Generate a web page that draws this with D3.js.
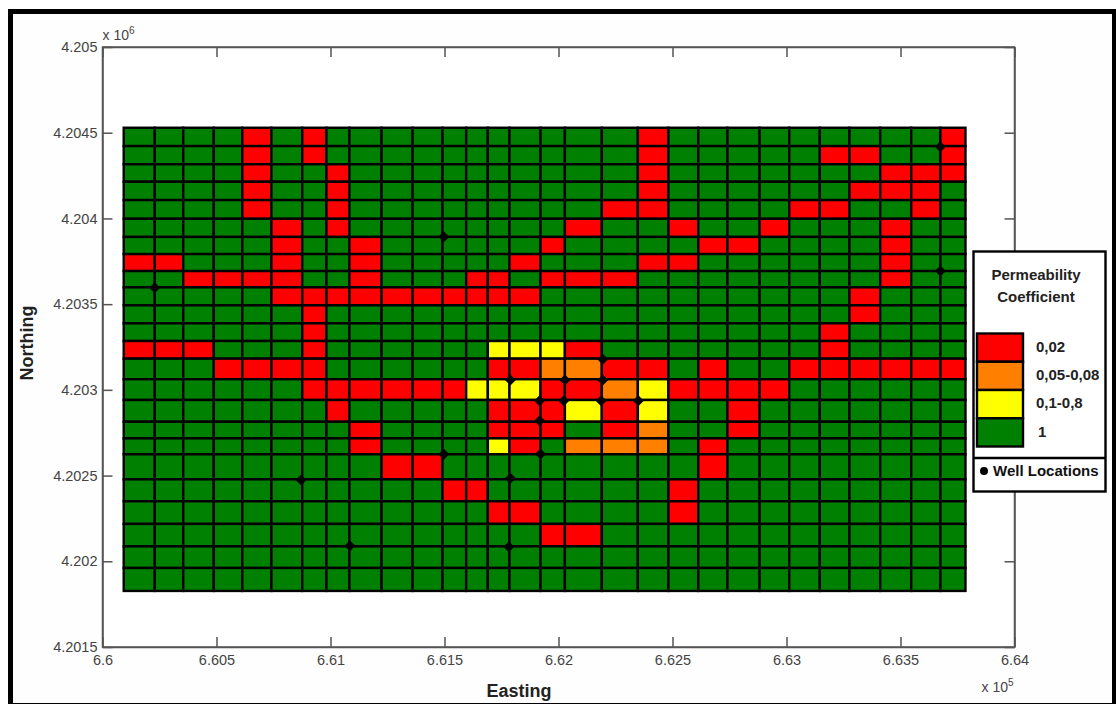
<!DOCTYPE html>
<html>
<head>
<meta charset="utf-8">
<script src="https://cdn.jsdelivr.net/npm/d3@7"></script>
<style>
html, body { margin: 0; background: #fff; }
svg { display: block; font-family: "Liberation Sans", Arial, sans-serif; }
.axis text { font-size: 14.5px; fill: #444; }
.axis path, .axis line { stroke: #555; stroke-width: 1.5; }
.title { font-weight: bold; fill: #222; }
</style>
</head>
<body>
<svg width="1116" height="704"></svg>
<script>
// cell edges, in metres
var eastEdges = [660093, 660229, 660354, 660488, 660613, 660741, 660876, 660982, 661083, 661224,
	661360, 661491, 661595, 661690, 661785, 661921, 662028, 662190, 662348, 662482,
	662613, 662741, 662882, 663012, 663146, 663276, 663411, 663547, 663675, 663785];
var northEdges = [4204529, 4204422, 4204316, 4204214, 4204107, 4203998, 4203892, 4203792, 4203693,
	4203598, 4203493, 4203388, 4203285, 4203182, 4203062, 4202941, 4202814, 4202717,
	4202624, 4202478, 4202350, 4202218, 4202087, 4201961, 4201827];

// columns with a low value, one list per row, top down. everything else is class "1"
var redCols = [
	[4, 6, 18, 28],
	[4, 6, 18, 24, 25, 28],
	[4, 7, 18, 26, 27, 28],
	[4, 7, 18, 25, 26, 27],
	[4, 7, 17, 18, 23, 24, 27],
	[5, 7, 16, 19, 22, 26],
	[5, 8, 15, 20, 21, 26],
	[0, 1, 5, 8, 14, 18, 19, 26],
	[2, 3, 4, 5, 8, 12, 13, 15, 16, 17, 26],
	[5, 6, 7, 8, 9, 10, 11, 12, 13, 14, 25],
	[6, 25],
	[6, 24],
	[0, 1, 2, 6, 16, 24],
	[3, 4, 5, 6, 13, 14, 17, 18, 20, 23, 24, 25, 26, 27, 28],
	[6, 7, 8, 9, 10, 11, 15, 16, 19, 20, 21, 22],
	[7, 13, 14, 15, 17, 21],
	[8, 13, 14, 15, 17, 21],
	[8, 14, 20],
	[9, 10, 20],
	[11, 12, 19],
	[13, 14, 19],
	[15, 16],
	[],
	[]
];
var orangeCols = {13: [15, 16], 14: [17], 16: [18], 17: [16, 17, 18]};
var yellowCols = {12: [13, 14, 15], 14: [12, 13, 14, 18], 15: [16, 18], 17: [13]};

var wellEast = [660229, 661497, 663675, 663675, 660871, 661085, 661497, 662194, 661789, 662028,
	662194, 661917, 662023, 662187, 662350, 661917, 661921, 661789, 661782];
var wellNorth = [4203596, 4203893, 4204418, 4203693, 4202474, 4202091, 4202624, 4203178, 4203058, 4203058,
	4203058, 4202937, 4202937, 4202937, 4202937, 4202820, 4202626, 4202484, 4202085];

var xTicks = [660000, 660500, 661000, 661500, 662000, 662500, 663000, 663500, 664000];
var xTickLabels = ["6.6", "6.605", "6.61", "6.615", "6.62", "6.625", "6.63", "6.635", "6.64"];
var yTicks = [4201500, 4202000, 4202500, 4203000, 4203500, 4204000, 4204500, 4205000];
var yTickLabels = ["4.2015", "4.202", "4.2025", "4.203", "4.2035", "4.204", "4.2045", "4.205"];

var legendLabels = ["0,02", "0,05-0,08", "0,1-0,8", "1"];
var legendColors = ["#ff0000", "#ff8000", "#ffff00", "#008000"];

var svg = d3.select("svg");

var x = d3.scaleLinear().domain([660000, 664000]).range([102.5, 1014.5]),
	y = d3.scaleLinear().domain([4201500, 4205000]).range([647, 47]);

// page frame
svg.append("rect")
	.attr("x", 8).attr("y", 9)
	.attr("width", 1108).attr("height", 695)
	.attr("fill", "#000");
svg.append("rect")
	.attr("x", 13).attr("y", 14)
	.attr("width", 1099).attr("height", 689)
	.attr("fill", "#fefefe");

// plot box
var box = {left: x.range()[0], right: x.range()[1], top: y.range()[1], bottom: y.range()[0]};
svg.append("rect")
	.attr("x", box.left).attr("y", box.top)
	.attr("width", box.right - box.left).attr("height", box.bottom - box.top)
	.attr("fill", "#fff").attr("stroke", "#555").attr("stroke-width", 1.5);

function fmt(list, labels) {
	return function(d) { return labels[list.indexOf(d)]; };
}

svg.append("g").attr("class", "axis")
	.attr("transform", "translate(0," + box.bottom + ")")
	.call(d3.axisBottom(x).tickValues(xTicks).tickFormat(fmt(xTicks, xTickLabels)).tickSizeInner(-10).tickSizeOuter(0))
	.call(function(g) { g.selectAll("text").attr("y", 8); });
svg.append("g").attr("class", "axis")
	.attr("transform", "translate(0," + box.top + ")")
	.call(d3.axisTop(x).tickValues(xTicks).tickFormat("").tickSizeInner(-10).tickSizeOuter(0));
svg.append("g").attr("class", "axis")
	.attr("transform", "translate(" + box.left + ",0)")
	.call(d3.axisLeft(y).tickValues(yTicks).tickFormat(fmt(yTicks, yTickLabels)).tickSizeInner(-10).tickSizeOuter(0))
	.call(function(g) { g.selectAll("text").attr("x", -5); });
svg.append("g").attr("class", "axis")
	.attr("transform", "translate(" + box.right + ",0)")
	.call(d3.axisRight(y).tickValues(yTicks).tickFormat("").tickSizeInner(-10).tickSizeOuter(0));

// cells
var cells = [];
redCols.forEach(function(row, r) {
	d3.range(eastEdges.length - 1).forEach(function(c) {
		var color = legendColors[3];
		if (row.indexOf(c) >= 0) color = legendColors[0];
		if (orangeCols[r] && orangeCols[r].indexOf(c) >= 0) color = legendColors[1];
		if (yellowCols[r] && yellowCols[r].indexOf(c) >= 0) color = legendColors[2];
		cells.push({r: r, c: c, color: color});
	});
});

svg.append("g").selectAll("rect")
	.data(cells)
	.enter().append("rect")
	.attr("x", function(d) { return x(eastEdges[d.c]); })
	.attr("y", function(d) { return y(northEdges[d.r]); })
	.attr("width", function(d) { return x(eastEdges[d.c + 1]) - x(eastEdges[d.c]); })
	.attr("height", function(d) { return y(northEdges[d.r + 1]) - y(northEdges[d.r]); })
	.attr("fill", function(d) { return d.color; })
	.attr("stroke", "#000")
	.attr("stroke-width", 2.4);

// wells
svg.append("g").selectAll("path")
	.data(wellEast)
	.enter().append("path")
	.attr("d", "M0,-5.5L5.5,0L0,5.5L-5.5,0Z")
	.attr("transform", function(d, i) { return "translate(" + x(d) + "," + y(wellNorth[i]) + ")"; })
	.attr("fill", "#000");

// axis titles
svg.append("text").attr("class", "title")
	.attr("x", 519).attr("y", 697)
	.attr("text-anchor", "middle").style("font-size", "18px").text("Easting");
svg.append("text").attr("class", "title")
	.attr("transform", "translate(33,343) rotate(-90)")
	.attr("text-anchor", "middle").style("font-size", "18px").text("Northing");

// exponents
function exponent(px, py, power) {
	var t = svg.append("text").attr("x", px).attr("y", py).attr("fill", "#444").style("font-size", "14px").text("x 10");
	t.append("tspan").attr("dy", -6).style("font-size", "10px").text(power);
}
exponent(102.5, 40, "6");
exponent(981.5, 692, "5");

// legend
var legend = svg.append("g");
legend.append("rect")
	.attr("x", 973.5).attr("y", 251.5)
	.attr("width", 132).attr("height", 240)
	.attr("fill", "#fff").attr("stroke", "#000").attr("stroke-width", 2.4);
legend.append("line")
	.attr("x1", 973.5).attr("x2", 1105.5).attr("y1", 458).attr("y2", 458)
	.attr("stroke", "#000").attr("stroke-width", 2.4);

var legendY = d3.scaleBand().domain(legendLabels).range([333.5, 446.5]);
legend.selectAll(".swatch")
	.data(legendLabels)
	.enter().append("rect")
	.attr("class", "swatch")
	.attr("x", 977).attr("width", 46)
	.attr("y", function(d) { return legendY(d); })
	.attr("height", legendY.bandwidth())
	.attr("fill", function(d, i) { return legendColors[i]; })
	.attr("stroke", "#000").attr("stroke-width", 2.4);
legend.selectAll(".label")
	.data(legendLabels)
	.enter().append("text")
	.attr("class", "label")
	.attr("x", function(d) { return d === "1" ? 1038 : 1036; })
	.attr("y", function(d) { return legendY(d) + legendY.bandwidth() / 2 - 1; })
	.attr("dy", "0.35em")
	.attr("fill", "#222")
	.style("font-weight", "bold").style("font-size", "15px")
	.text(function(d) { return d; });
["Permeability", "Coefficient"].forEach(function(s, i) {
	legend.append("text")
		.attr("x", 1036).attr("y", 280 + i * 22)
		.attr("text-anchor", "middle").attr("fill", "#222")
		.style("font-weight", "bold").style("font-size", "15px")
		.text(s);
});
legend.append("circle").attr("cx", 984).attr("cy", 471).attr("r", 4).attr("fill", "#000");
legend.append("text")
	.attr("x", 993).attr("y", 476)
	.attr("fill", "#111")
	.style("font-weight", "bold").style("font-size", "15px")
	.text("Well Locations");
</script>
</body>
</html>
